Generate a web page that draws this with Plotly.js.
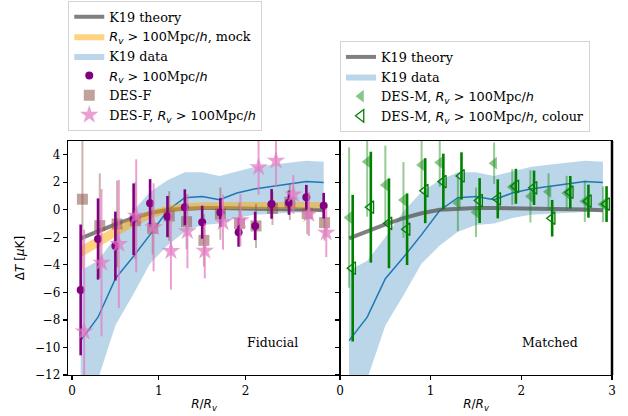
<!DOCTYPE html>
<html><head><meta charset="utf-8">
<script src="https://cdn.plot.ly/plotly-3.0.1.min.js"></script>
<style>body{margin:0;background:#fff;}</style>
</head><body><div id="chart" style="width:628px;height:416px;"></div>
<script>
// ---- data ----
const gridX = [0.1,0.3,0.5,0.7,0.9,1.1,1.3,1.5,1.7,1.9,2.1,2.3,2.5,2.7,2.9];
const theoryY = [-2.07,-1.55,-1.05,-0.6,-0.25,0.0,0.1,0.13,0.13,0.12,0.12,0.1,0.06,0.02,-0.03];
const k19Y  = [-9.5,-7.8,-5.0,-3.45,-1.8,-0.05,0.88,0.97,0.74,1.22,1.52,1.7,1.86,2.06,1.98];
const k19Hi = [-4.4,-3.7,-2.0,-0.1,1.3,2.15,2.73,2.73,2.45,2.8,3.12,3.28,3.4,3.57,3.5];
const k19Lo = [-15.5,-12.3,-8.4,-6.2,-3.9,-2.6,-1.6,-1.1,-1.0,-0.6,-0.35,-0.25,-0.2,-0.15,-0.1];
const mockHi = [-2.64,-1.9,-1.22,-0.55,-0.05,0.3,0.47,0.53,0.55,0.56,0.56,0.57,0.57,0.58,0.55];
const mockLo = [-3.46,-2.7,-1.98,-1.25,-0.65,-0.25,-0.03,0.03,0.05,0.06,0.06,0.07,0.07,0.08,0.07];

const rvX   = [0.1,0.3,0.5,0.71,0.9,1.1,1.3,1.5,1.71,1.92,2.11,2.3,2.5,2.7,2.9];
const rvY   = [-5.82,-2.12,-2.63,-0.68,0.48,-0.49,0.19,-0.9,-0.2,-1.63,-1.17,0.43,0.52,0.91,0.3];
const rvErr = [4.75,2.95,2.5,2.6,1.75,1.5,1.3,1.2,1.05,1.05,1.03,1.08,0.88,0.9,0.93];

const desfX   = [0.12,0.32,0.52,0.73,0.93,1.12,1.32,1.52,1.71,1.93,2.12,2.31,2.51,2.71,2.91];
const desfY   = [0.77,-1.15,-1.03,-0.79,-1.34,-0.45,-0.86,-2.22,-0.28,-1.0,-1.17,0.1,0.55,-0.28,-0.93];
const desfErr = [5.1,3.8,3.15,2.8,1.9,1.8,2.0,1.9,1.9,1.5,1.6,1.2,1.3,1.5,1.3];

const pinkX   = [0.14,0.34,0.54,0.74,0.94,1.14,1.33,1.53,1.74,1.94,2.15,2.35,2.55,2.73,2.93];
const pinkY   = [-8.85,-3.84,-2.48,-0.43,-1.27,-3.0,-1.55,-2.98,-0.9,-0.76,3.09,3.57,1.12,-0.3,-1.66];
const pinkErr = [7.4,5.35,4.65,4.1,3.2,2.8,2.7,2.0,2.0,1.9,2.0,1.9,1.4,1.6,1.78];

const dmX   = [0.1,0.3,0.5,0.7,0.9,1.1,1.3,1.5,1.7,1.9,2.1,2.3,2.5,2.7,2.9];
const dmY   = [-0.56,3.5,1.81,0.72,3.26,3.43,0.5,-0.17,3.39,1.66,0.98,1.32,1.22,0.62,0.4];
const dmErr = [5.1,4.0,2.85,2.75,1.85,1.75,2.05,1.8,1.5,1.3,1.9,1.33,1.25,1.5,1.3];

const dmcX   = [0.14,0.34,0.54,0.74,0.94,1.14,1.34,1.54,1.74,1.94,2.14,2.34,2.54,2.74,2.94];
const dmcY   = [-4.24,0.19,-0.98,-1.41,1.39,2.05,2.46,0.67,0.8,1.71,1.6,-0.61,1.28,0.63,0.42];
const dmcErr = [5.33,4.03,3.26,2.6,2.36,2.03,1.72,1.63,1.42,1.27,1.25,1.33,1.18,1.2,1.3];

const yTicks = [-12,-10,-8,-6,-4,-2,0,2,4];

// ---- styling ----
const SERIF = 'DejaVu Serif';
const SANS = 'DejaVu Sans';
const rv = '<span style="font-family:DejaVu Sans"><i>R<sub>v</sub></i> &gt; 100</span>Mpc<span style="font-family:DejaVu Sans">/<i>h</i></span>';
const bandFill = 'rgba(31,119,180,0.3)';
const grayLine = 'rgba(85,85,85,0.75)';

function band(xa, ya, lo, hi, color, name, legend, show, rank) {
  return {x: gridX.concat(gridX.slice().reverse()), y: hi.concat(lo.slice().reverse()),
    xaxis: xa, yaxis: ya, type:'scatter', mode:'lines', fill:'toself', fillcolor: color,
    line:{width:0, color: color}, name: name, legend: legend, showlegend: show,
    legendrank: rank, hoverinfo:'skip'};
}
function eb(arr, color, th) {
  return {type:'data', array: arr, visible:true, color: color, thickness: th, width: 0};
}

const traces = [
  // left panel
  band('x','y', k19Lo, k19Hi, bandFill, 'K19 data', 'legend', true, 3),
  {x: gridX, y: k19Y, xaxis:'x', yaxis:'y', mode:'lines', line:{color:'#1f77b4', width:1.5}, showlegend:false},
  {x: gridX, y: theoryY, xaxis:'x', yaxis:'y', mode:'lines', line:{color:grayLine, width:4},
   name:'K19 theory', legend:'legend', legendrank:1},
  band('x','y', mockLo, mockHi, 'rgba(255,165,0,0.5)', rv + ', mock', 'legend', true, 2),
  {x: desfX, y: desfY, xaxis:'x', yaxis:'y', mode:'markers', name:'DES-F', legend:'legend', legendrank:5,
   marker:{symbol:'square', size:11, color:'rgba(140,86,75,0.55)', line:{width:0}},
   error_y: eb(desfErr, 'rgba(140,86,75,0.45)', 2)},
  {x: rvX, y: rvY, xaxis:'x', yaxis:'y', mode:'markers', name: rv, legend:'legend', legendrank:4,
   marker:{symbol:'circle', size:8, color:'#800080', line:{width:0}},
   error_y: eb(rvErr, '#800080', 2.6)},
  {x: pinkX, y: pinkY, xaxis:'x', yaxis:'y', mode:'markers', name:'DES-F, ' + rv, legend:'legend', legendrank:6,
   marker:{symbol:'star', size:14, color:'rgba(227,119,194,0.7)', line:{width:0}},
   error_y: eb(pinkErr, 'rgba(227,119,194,0.7)', 2)},
  // right panel
  band('x2','y2', k19Lo, k19Hi, bandFill, 'K19 data', 'legend2', true, 2),
  {x: gridX, y: k19Y, xaxis:'x2', yaxis:'y2', mode:'lines', line:{color:'#1f77b4', width:1.5}, showlegend:false},
  {x: gridX, y: theoryY, xaxis:'x2', yaxis:'y2', mode:'lines', line:{color:grayLine, width:4},
   name:'K19 theory', legend:'legend2', legendrank:1},
  {x: dmX, y: dmY, xaxis:'x2', yaxis:'y2', mode:'markers', name:'DES-M, ' + rv, legend:'legend2', legendrank:3,
   marker:{symbol:'triangle-left', size:11, color:'rgba(20,140,20,0.5)', line:{width:0}},
   error_y: eb(dmErr, 'rgba(20,140,20,0.45)', 2)},
  {x: dmcX, y: dmcY, xaxis:'x2', yaxis:'y2', mode:'markers', name:'DES-M, ' + rv + ', colour', legend:'legend2', legendrank:4,
   marker:{symbol:'triangle-left-open', size:11, color:'#008000', line:{width:1.3, color:'#008000'}},
   error_y: eb(dmcErr, '#008000', 2.6)}
];

const tickFont = {family: SERIF, size: 12, color:'#000'};
const axBase = {showline:true, linecolor:'#000', linewidth:1.3, mirror:true, ticks:'outside',
  ticklen:4, tickwidth:1.2, tickcolor:'#000', showgrid:false, zeroline:false, tickfont: tickFont};
const xTitle = {text:'<i>R</i>/<i>R<sub>v</sub></i>', font:{family:SANS, size:12, color:'#000'}, standoff:3};

const legBase = {bgcolor:'rgba(255,255,255,0.8)', bordercolor:'#d4d4d4', borderwidth:1,
  font:{family:SERIF, size:12.8, color:'#000'}, xanchor:'left', yanchor:'top', traceorder:'normal',
  itemclick:false, itemdoubleclick:false};

const layout = {
  width:628, height:416, margin:{l:68, r:16, t:141, b:41, autoexpand:false},
  paper_bgcolor:'#fff', plot_bgcolor:'#fff', font:{family:SERIF, size:12, color:'#000'},
  xaxis: Object.assign({}, axBase, {domain:[0,0.5], range:[-0.046,3.088], tickvals:[0,1,2], anchor:'y', title:xTitle}),
  yaxis: Object.assign({}, axBase, {range:[-12,5], tickvals:yTicks, anchor:'x',
    title:{text:'Δ<i>T</i> [<i>μ</i>K]', font:{family:SANS, size:12, color:'#000'}, standoff:7}}),
  xaxis2: Object.assign({}, axBase, {domain:[0.5,1], range:[0,3], tickvals:[0,1,2,3], anchor:'y2', title:xTitle}),
  yaxis2: Object.assign({}, axBase, {range:[-12,5], tickvals:yTicks, anchor:'x2', showticklabels:false}),
  legend: Object.assign({}, legBase, {x:0.0005, y:1.599}),
  legend2: Object.assign({}, legBase, {x:0.5, y:1.427}),
  annotations: [
    {x:2.31, y:-9.65, xref:'x', yref:'y', text:'Fiducial', showarrow:false, font:{family:SERIF, size:12.5, color:'#000'}},
    {x:2.32, y:-9.65, xref:'x2', yref:'y2', text:'Matched', showarrow:false, font:{family:SERIF, size:12.5, color:'#000'}}
  ],
  shapes: [
    {type:'line', xref:'paper', yref:'paper', x0:1, x1:1, y0:0, y1:1, line:{color:'#000', width:2.5}}
  ]
};

Plotly.newPlot('chart', traces, layout, {displayModeBar:false, staticPlot:true});
</script></body></html>
